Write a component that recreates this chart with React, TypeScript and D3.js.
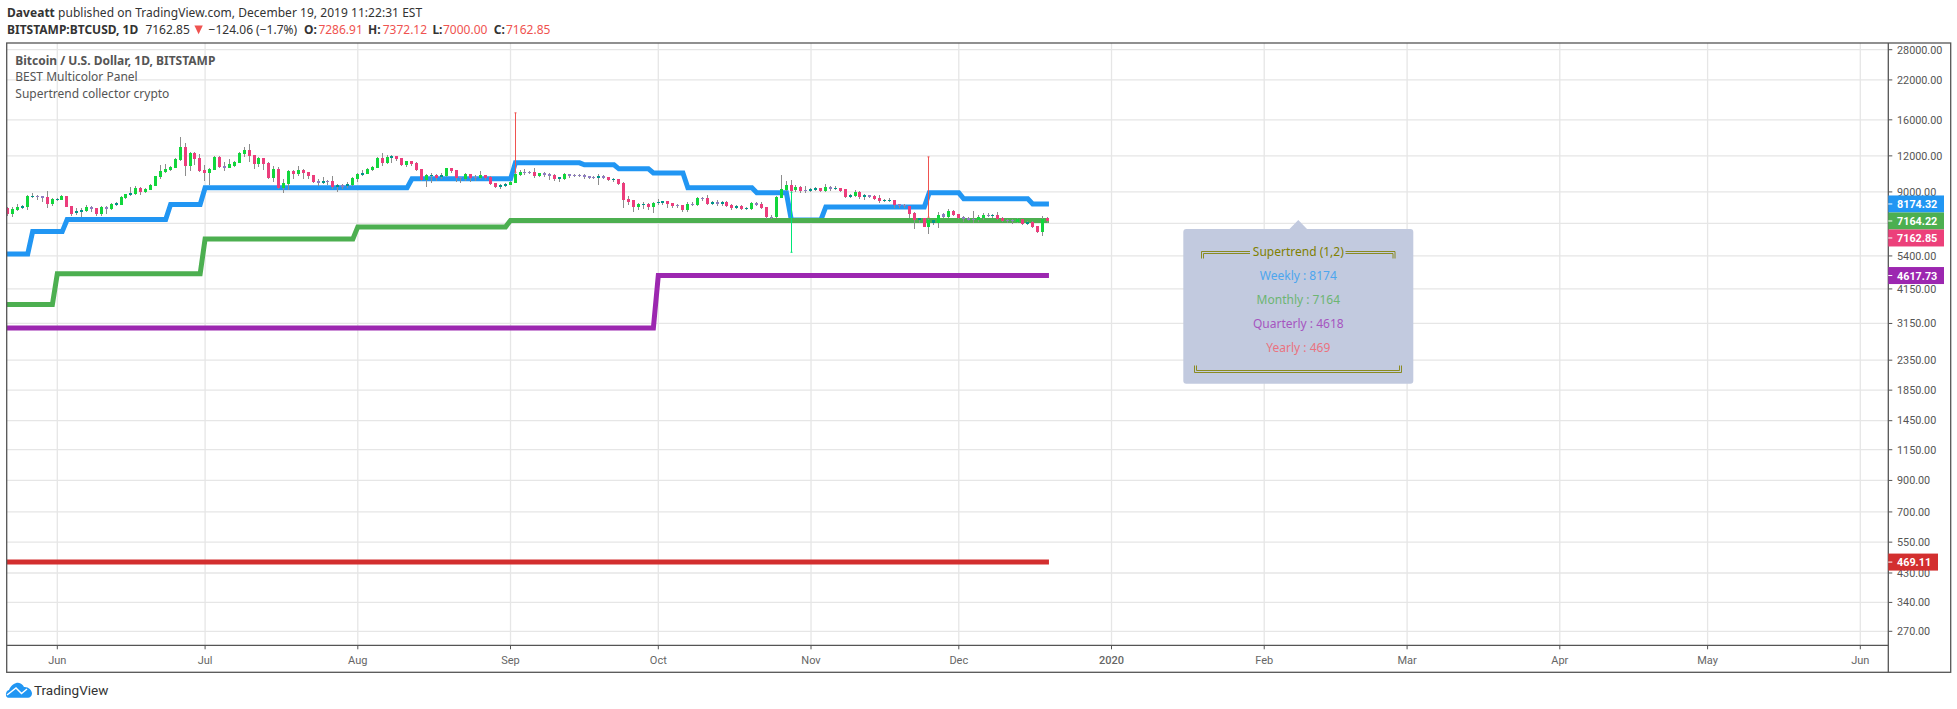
import React from "react";
import * as d3 from "d3";

type Row = [number, number, number, number, string];

// Candles by month: open, high, low, close, state (u rising, d falling, p / t small-body states)
const may2019: Row[] = [
  [7943,8007,7452,7572,"d"],[7572,8007,7393,7880,"u"],[7817,8201,7755,8007,"u"],[7943,8136,7880,8071,"t"],[8007,8812,7817,8742,"u"],
  [8672,8953,8603,8742,"t"],[8672,8812,8467,8742,"p"],[8603,8742,8333,8742,"p"],[8672,9097,7943,8201,"d"],[8201,8603,8071,8535,"u"],
];
const jun2019: Row[] = [
  [8467,8603,8400,8535,"t"],[8467,8812,8467,8742,"u"],[8742,8742,8007,8007,"d"],[8071,8071,7452,7572,"d"],[7633,7943,7512,7755,"t"],
  [7694,7943,7393,7817,"t"],[7755,8136,7694,8007,"u"],[7880,8071,7694,8007,"p"],[7943,7943,7452,7572,"d"],[7572,8071,7452,8007,"u"],
  [7880,8071,7572,8007,"p"],[7880,8267,7817,8201,"u"],[8136,8333,8071,8267,"t"],[8136,8742,8136,8672,"u"],[8603,8882,8535,8882,"u"],
  [8812,9392,8742,8953,"t"],[8882,9468,8812,9318,"u"],[9318,9392,8812,9025,"d"],[9025,9318,8953,9243,"u"],[9170,9620,9170,9544,"u"],
  [9468,10254,9468,10254,"u"],[10172,11194,10011,10671,"u"],[10586,11284,10502,10843,"u"],[10757,11105,10671,11017,"u"],[10930,11838,10930,11744,"u"],
  [11650,13895,11558,12923,"u"],[12923,13342,10254,11105,"d"],[11105,12418,10671,12320,"u"],[12320,12418,11194,11744,"d"],[11838,12222,10586,10671,"d"],
];
const jul2019: Row[] = [
  [10757,11194,9853,10502,"d"],[10502,10930,9544,10843,"u"],[10757,12028,10757,11933,"u"],[11933,12028,10930,11017,"d"],[10930,11466,10671,11105,"p"],
  [10930,11744,10930,11284,"u"],[11105,11558,11017,11466,"u"],[11374,12418,11374,12320,"u"],[12222,12923,11933,12618,"u"],[12618,13235,11466,12028,"d"],
  [12125,12125,10843,11284,"d"],[11284,11933,11017,11838,"u"],[11838,11838,10757,11284,"d"],[11374,11466,10011,10091,"d"],[10091,11105,9775,10843,"u"],
  [10843,11017,9243,9318,"d"],[9318,10011,8953,9697,"u"],[9620,10757,9170,10671,"u"],[10671,10757,10011,10419,"d"],[10419,11105,10254,10757,"u"],
  [10757,10843,10011,10502,"d"],[10586,10586,10011,10254,"d"],[10336,10336,9697,9775,"d"],[9697,10011,9468,9853,"p"],[9697,10172,9620,9853,"t"],
  [9775,9932,9544,9853,"p"],[9853,10254,9243,9392,"d"],[9392,9620,9025,9544,"t"],[9392,9620,9243,9544,"p"],[9468,9775,9318,9620,"t"],
  [9544,10172,9468,10091,"u"],
];
const aug2019: Row[] = [
  [10011,10502,9775,10419,"u"],[10336,10757,10254,10502,"t"],[10419,10930,10419,10843,"u"],[10757,11105,10671,11017,"u"],[10930,11933,10930,11838,"u"],
  [11838,12320,11105,11374,"d"],[11374,12125,11284,11933,"u"],[11838,12125,11374,12028,"t"],[12028,12028,11558,11744,"d"],[11838,11838,11105,11194,"d"],
  [11194,11558,11017,11558,"u"],[11558,11558,11105,11284,"d"],[11374,11466,10671,10757,"d"],[10843,10843,9853,9932,"d"],[9932,10419,9392,10336,"u"],
  [10254,10502,9697,10336,"t"],[10336,10419,9853,10091,"d"],[10172,10502,10011,10336,"t"],[10254,10930,10172,10930,"u"],[10930,10930,10502,10671,"d"],
  [10757,10757,9775,10091,"d"],[10091,10172,9697,10172,"p"],[10011,10502,9853,10419,"u"],[10419,10419,9775,10091,"d"],[10091,10336,9853,10172,"p"],
  [10091,10671,10011,10336,"u"],[10336,10336,9932,10091,"d"],[10172,10254,9544,9620,"d"],[9697,9697,9318,9392,"d"],[9392,9620,9243,9544,"t"],
  [9468,9697,9392,9620,"t"],
];
const sep2019: Row[] = [
  [9544,9853,9544,9775,"u"],[9697,10502,9697,10419,"u"],[10336,10757,10254,10586,"u"],[10502,10843,10336,10586,"p"],[10502,10671,10419,10586,"p"],
  [10586,10930,10091,10254,"d"],[10254,10502,10172,10502,"u"],[10336,10586,10172,10502,"p"],[10254,10502,9932,10419,"p"],[10336,10419,9853,10011,"d"],
  [10011,10172,9775,10172,"t"],[10011,10502,9932,10419,"u"],[10254,10419,10091,10419,"p"],[10254,10419,10172,10336,"p"],[10254,10419,10172,10336,"p"],
  [10172,10419,10011,10336,"p"],[10091,10254,10011,10254,"p"],[10091,10254,10011,10172,"p"],[10091,10419,9544,10254,"t"],[10091,10336,10011,10254,"p"],
  [10172,10172,9853,9932,"d"],[9932,10091,9775,10011,"t"],[10011,10011,9544,9620,"d"],[9697,9775,7943,8467,"d"],[8535,8742,8136,8333,"d"],
  [8467,8467,7694,8007,"d"],[8007,8267,7817,8201,"u"],[8136,8333,7880,8201,"t"],[8201,8267,7817,8007,"d"],[8007,8333,7633,8267,"u"],
];
const oct2019: Row[] = [
  [8267,8535,8136,8333,"t"],[8267,8400,8136,8400,"t"],[8400,8400,7943,8201,"d"],[8267,8267,7943,8071,"d"],[8071,8201,7943,8136,"p"],
  [8136,8136,7694,7817,"d"],[7817,8333,7694,8201,"u"],[8136,8333,8071,8201,"p"],[8136,8672,8071,8603,"u"],[8535,8672,8400,8603,"p"],
  [8603,8812,8136,8201,"d"],[8201,8400,8136,8333,"t"],[8201,8467,8071,8333,"p"],[8201,8400,8071,8333,"t"],[8333,8400,8007,8071,"d"],
  [8136,8201,7817,7943,"d"],[7943,8136,7880,8071,"t"],[8071,8136,7817,7880,"d"],[7880,8007,7817,7943,"t"],[7880,8333,7817,8267,"u"],
  [8136,8333,8071,8267,"p"],[8201,8333,7880,7943,"d"],[8007,8007,7276,7393,"d"],[7334,7512,7276,7393,"p"],[7393,8742,7334,8672,"u"],
  [8603,10336,8603,9243,"u"],[9170,9853,9097,9544,"u"],[9544,9932,8953,9097,"d"],[9170,9544,9025,9392,"u"],[9392,9468,8953,9097,"d"],
  [9097,9468,8953,9170,"p"],
];
const nov2019: Row[] = [
  [9097,9318,9025,9243,"t"],[9170,9392,9097,9318,"t"],[9318,9318,9025,9097,"d"],[9097,9620,9025,9392,"u"],[9243,9468,9097,9392,"p"],
  [9243,9468,9170,9318,"t"],[9318,9318,9025,9097,"d"],[9243,9243,8603,8672,"d"],[8672,8882,8603,8812,"t"],[8742,9170,8672,9025,"u"],
  [9025,9097,8535,8672,"d"],[8672,8882,8467,8812,"t"],[8672,8812,8603,8812,"p"],[8742,8812,8467,8535,"d"],[8603,8812,8267,8400,"d"],
  [8400,8535,8333,8467,"t"],[8400,8603,8333,8467,"t"],[8467,8467,7943,8136,"d"],[8071,8201,7943,8201,"p"],[8071,8201,7943,8136,"p"],
  [8071,8071,7334,7572,"d"],[7633,7694,6718,7218,"d"],[7218,7334,7048,7334,"t"],[7334,7334,6826,6826,"d"],[6826,7276,6455,7218,"u"],
  [7048,7218,6936,7218,"t"],[7048,7694,6772,7512,"u"],[7393,7633,7334,7572,"p"],[7393,7880,7334,7755,"u"],[7755,7817,7452,7512,"d"],
];
const dec2019: Row[] = [
  [7572,7572,7276,7334,"d"],[7276,7452,7104,7393,"p"],[7218,7393,7161,7334,"p"],[7218,7755,7048,7276,"p"],[7218,7512,7104,7393,"u"],
  [7334,7633,7218,7512,"u"],[7452,7633,7393,7512,"p"],[7452,7572,7334,7512,"t"],[7512,7694,7218,7276,"d"],[7334,7393,7104,7161,"d"],
  [7161,7276,7048,7218,"p"],[7161,7276,6992,7218,"p"],[7104,7334,7048,7276,"u"],[7276,7276,6936,6992,"d"],[6992,7161,6936,7104,"t"],
  [7104,7161,6772,6826,"d"],[6880,6880,6507,6559,"d"],[6559,7452,6352,7276,"u"],[7286.91,7372.12,7000,7162.85,"d"],
];
const candles: Row[] = [...may2019, ...jun2019, ...jul2019, ...aug2019, ...sep2019, ...oct2019, ...nov2019, ...dec2019];
const firstCandleDay = -10; // days from 1 June 2019

// Supertrend levels: day offset from 1 June 2019 at which each level begins
const weeklyDays = [-11, -5, 2, 23, 30, 72, 93, 107, 114, 121, 128, 142, 149, 156, 177, 184, 198];
const weeklyLevels = [5489, 6558, 7218, 8136, 9296, 9988, 11348, 11168, 10817, 10477, 9296, 8932, 7200, 7987, 8932, 8514, 8174.32];
const monthlyDays = [-11, 0, 30, 61, 92];
const monthlyLevels = [3662, 4680, 6187, 6808, 7164.22];
const quarterlyDays = [-11, 122];
const quarterlyLevels = [3041, 4617.73];
const yearlyDays = [-11];
const yearlyLevels = [469.11];
const lineEndDay = 201.3;

// Signal wicks: day offset, top price, bottom price
const spikeDays = [93, 149, 177];
const spikeTops = [16913, 8975, 11904];
const spikeBottoms = [10527, 5560, 7351];
const spikeStates = ["d", "u", "d"];

const priceTicks = [28000, 22000, 16000, 12000, 9000, 7000, 5400, 4150, 3150, 2350, 1850, 1450, 1150, 900, 700, 550, 430, 340, 270];
const monthLabels = ["Jun", "Jul", "Aug", "Sep", "Oct", "Nov", "Dec", "2020", "Feb", "Mar", "Apr", "May", "Jun"];

const lastPriceLabels = [
  { price: 8174.32, text: "8174.32", fill: "#2196f3" },
  { price: 7164.22, text: "7164.22", fill: "#4caf50" },
  { price: 7162.85, text: "7162.85", fill: "#ec407a" },
  { price: 4617.73, text: "4617.73", fill: "#9c27b0" },
  { price: 469.11, text: "469.11", fill: "#d32f2f" },
];

const panelRows = [
  { text: "Weekly : 8174", fill: "#4da6ee" },
  { text: "Monthly : 7164", fill: "#6db573" },
  { text: "Quarterly : 4618", fill: "#a655bf" },
  { text: "Yearly : 469", fill: "#ea7380" },
];

const W = 1957, H = 709;
const L = 6.7, T = 43, R = 1888.3, B = 645.3, AB = 672.3, OR = 1950.7;

const y = d3.scaleLog().domain([270, 28000]).range([631.3, 49.7]);
const t0 = new Date(Date.UTC(2019, 5, 1));
const t1 = new Date(Date.UTC(2020, 5, 1));
const x = d3.scaleUtc().domain([t0, t1]).range([57.3, 1860.3]);
const dx = (day: number) => x(new Date(t0.getTime() + day * 864e5));
const monthTicks = d3.utcMonth.range(t0, d3.utcDay.offset(t1, 1));

const ui = "'Noto Sans', sans-serif";
const axisFont = "Roboto, sans-serif";
const stateFill: Record<string, string> = { u: "#12d63c", d: "#ec3d7c", p: "#8e7cc3", t: "#009688" };

const stepPath = (days: number[], levels: number[]) => {
  const pts: [number, number][] = [];
  days.forEach((d, i) => {
    pts.push([dx(d), y(levels[i])]);
    pts.push([dx(i < days.length - 1 ? days[i + 1] - 1 : lineEndDay), y(levels[i])]);
  });
  return d3.line()(pts) as string;
};

const lineDefs = [
  { d: stepPath(yearlyDays, yearlyLevels), c: "#d32f2f" },
  { d: stepPath(quarterlyDays, quarterlyLevels), c: "#9c27b0" },
  { d: stepPath(weeklyDays, weeklyLevels), c: "#2196f3" },
  { d: stepPath(monthlyDays, monthlyLevels), c: "#4caf50" },
];

const placedLabels = (() => {
  const h = 17;
  let prev = -Infinity;
  return lastPriceLabels.map((l) => {
    let c = y(l.price);
    if (c - h / 2 < prev) c = prev + h / 2;
    prev = c + h / 2;
    return { ...l, c };
  });
})();

const Double = ({ d }: { d: string }) => (
  <path d={d} fill="none" stroke="#808000" strokeWidth={1} opacity={0.85} />
);

export default function App() {
  return (
    <svg width={W} height={H} style={{ position: "absolute", left: 0, top: 0, display: "block", background: "#fff" }}>
      {/* header */}
      <text x={7} y={17} fontFamily={ui} fontSize={12} fill="#333" letterSpacing={0.04}>
        <tspan fontWeight={700}>Daveatt</tspan> published on TradingView.com, December 19, 2019 11:22:31 EST
      </text>
      <g fontFamily={ui} fontSize={12} fill="#333">
        <text x={7} y={34} fontWeight={700}>BITSTAMP:BTCUSD, 1D</text>
        <text x={145.4} y={34}>7162.85</text>
        <path d="M194.4 25.5H202.8L198.6 34.3Z" fill="#ef5350" />
        <text x={208.6} y={34}>−124.06 (−1.7%)</text>
        <text x={304} y={34} fontWeight={700}>O:</text>
        <text x={318.4} y={34} fill="#ef5350">7286.91</text>
        <text x={368} y={34} fontWeight={700}>H:</text>
        <text x={382.7} y={34} fill="#ef5350">7372.12</text>
        <text x={432.4} y={34} fontWeight={700}>L:</text>
        <text x={443} y={34} fill="#ef5350">7000.00</text>
        <text x={493.7} y={34} fontWeight={700}>C:</text>
        <text x={506} y={34} fill="#ef5350">7162.85</text>
      </g>

      {/* grid */}
      <g stroke="#e6e6e6" strokeWidth={1.3}>
        {priceTicks.map((p) => <line key={p} x1={L} x2={R} y1={y(p)} y2={y(p)} />)}
        {monthTicks.map((m) => <line key={+m} x1={x(m)} x2={x(m)} y1={T} y2={B} />)}
      </g>

      {/* legend */}
      <g fontFamily={ui} fontSize={12} fill="#555">
        <text x={15.3} y={65} fontWeight={700}>Bitcoin / U.S. Dollar, 1D, BITSTAMP</text>
        <text x={15.3} y={81}>BEST Multicolor Panel</text>
        <text x={15.3} y={98}>Supertrend collector crypto</text>
      </g>

      <defs>
        <clipPath id="plot"><rect x={L} y={T} width={R - L} height={B - T} /></clipPath>
      </defs>

      <g clipPath="url(#plot)">
        {lineDefs.map((l) => (
          <path key={l.c} d={l.d} fill="none" stroke={l.c} strokeWidth={5} strokeLinejoin="miter" />
        ))}
        {candles.map((r, i) => {
          const [o, h, lo, c, s] = r;
          const cx = Math.round(dx(firstCandleDay + i) - 0.8);
          const top = Math.round(y(Math.max(o, c)));
          const bot = Math.round(y(Math.min(o, c)));
          return (
            <g key={i}>
              <rect x={cx} y={Math.round(y(h))} width={1} height={Math.max(1, Math.round(y(lo)) - Math.round(y(h)))} fill="#8d8d8d" />
              <rect x={cx - 1} y={top} width={3} height={Math.max(1, bot - top)} fill={stateFill[s]} />
            </g>
          );
        })}
        {spikeDays.map((d, i) => {
          const cx = Math.round(dx(d) - 0.8) + 0.5;
          const col = spikeStates[i] === "d" ? "#ef5350" : "#00e676";
          return (
            <g key={d} stroke={col} strokeWidth={1}>
              <line x1={cx} x2={cx} y1={y(spikeTops[i])} y2={y(spikeBottoms[i])} />
              <line x1={cx - 1} x2={cx + 1} y1={y(spikeTops[i])} y2={y(spikeTops[i])} />
              <line x1={cx - 1} x2={cx + 1} y1={y(spikeBottoms[i])} y2={y(spikeBottoms[i])} />
            </g>
          );
        })}
      </g>

      {/* info panel */}
      <g>
        <path d="M1289.5 229L1298.3 220L1307 229Z" fill="#c2cadf" />
        <rect x={1183.3} y={229} width={230} height={154.7} rx={3} fill="#c2cadf" />
        <g fontFamily={ui} fontSize={12} textAnchor="middle">
          <text x={1298.3} y={256.3} fill="#808000">Supertrend (1,2)</text>
          {panelRows.map((r, i) => (
            <text key={r.text} x={1298.3} y={280 + i * 24} fill={r.fill}>{r.text}</text>
          ))}
        </g>
        <Double d="M1250 251.5H1201.5V258.5M1250 253.5H1203.5V258.5" />
        <Double d="M1345.5 251.5H1395V258.5M1345.5 253.5H1393V258.5" />
        <Double d="M1194.5 365.5V372.5H1401.5V365.5M1196.5 365.5V370.5H1399.5V365.5" />
      </g>

      {/* frame */}
      <g fill="none" stroke="#555" strokeWidth={1.3}>
        <rect x={L} y={T} width={OR - L} height={AB - T} />
        <line x1={R} x2={R} y1={T} y2={AB} />
        <line x1={L} x2={R} y1={B} y2={B} />
      </g>

      {/* price axis */}
      <g fontFamily={axisFont} fontSize={10.8} fill="#555">
        {priceTicks.map((p) => (
          <g key={p}>
            <line x1={R} x2={R + 4} y1={y(p)} y2={y(p)} stroke="#555" />
            {p !== 7000 && <text x={1897} y={y(p) + 3.8}>{p.toFixed(2)}</text>}
          </g>
        ))}
      </g>
      {placedLabels.map((l) => (
        <g key={l.text}>
          <rect x={R} y={l.c - 8.5} width={l.text.length > 6 ? 55.7 : 49.7} height={17} fill={l.fill} />
          <line x1={R} x2={R + 4} y1={l.c} y2={l.c} stroke="#fff" />
          <text x={1897} y={l.c + 4} fontFamily={axisFont} fontSize={10.8} fontWeight={700} fill="#fff">{l.text}</text>
        </g>
      ))}

      {/* time axis */}
      <g fontFamily={axisFont} fontSize={11} fill="#666" textAnchor="middle">
        {monthTicks.map((m, i) => (
          <g key={+m}>
            <line x1={x(m)} x2={x(m)} y1={B} y2={B + 4} stroke="#555" />
            <text x={x(m)} y={664} fontWeight={monthLabels[i] === "2020" ? 500 : 400}>{monthLabels[i]}</text>
          </g>
        ))}
      </g>

      {/* logo */}
      <path d="M8.5 697.7C5 697.7 5 691 9 690C11 685 15 682.7 18 682.7C21 682.7 23 685 24 687C28 686.5 32 690 32 693.5C32 696 30 697.7 28 697.7Z" fill="#2196f3" />
      <path d="M7 695L16 688L21.5 693.5L27 689" fill="none" stroke="#fff" strokeWidth={1.5} />
      <text x={34} y={695} fontFamily={axisFont} fontSize={13.5} fill="#333">TradingView</text>
    </svg>
  );
}
